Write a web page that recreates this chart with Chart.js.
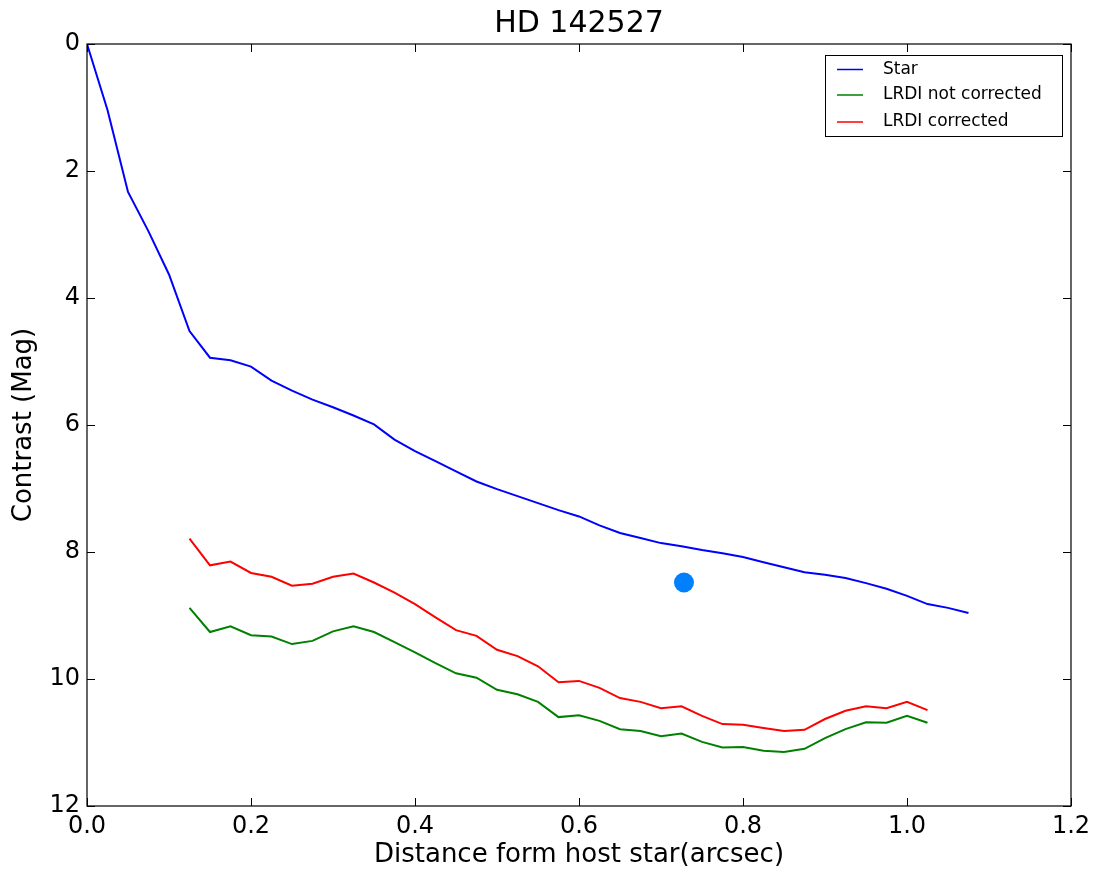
<!DOCTYPE html>
<html>
<head>
<meta charset="utf-8">
<script src="https://cdn.jsdelivr.net/npm/chart.js@4/dist/chart.umd.min.js"></script>
<style>
html,body{margin:0;padding:0;background:#fff;}
#c{display:block;}
</style>
</head>
<body>
<canvas id="c" width="1097" height="875"></canvas>
<script>
const chartTitle = "HD 142527";
const xTitle = "Distance form host star(arcsec)";
const yTitle = "Contrast (Mag)";

const starDist = [0,0.025,0.05,0.075,0.1,0.125,0.15,0.175,0.2,0.225,0.25,0.275,0.3,0.325,0.35,0.375,0.4,0.425,0.45,0.475,0.5,0.525,0.55,0.575,0.6,0.625,0.65,0.675,0.7,0.725,0.75,0.775,0.8,0.825,0.85,0.875,0.9,0.925,0.95,0.975,1.0,1.025,1.05,1.075];
const starMag = [0,1.04,2.33,2.95,3.63,4.52,4.94,4.98,5.08,5.30,5.46,5.60,5.72,5.85,5.99,6.23,6.41,6.57,6.73,6.89,7.01,7.12,7.23,7.34,7.44,7.58,7.70,7.78,7.86,7.91,7.97,8.02,8.08,8.16,8.24,8.32,8.36,8.41,8.49,8.58,8.69,8.82,8.88,8.96];

const lrdiDist = [0.125,0.15,0.175,0.2,0.225,0.25,0.275,0.3,0.325,0.35,0.375,0.4,0.425,0.45,0.475,0.5,0.525,0.55,0.575,0.6,0.625,0.65,0.675,0.7,0.725,0.75,0.775,0.8,0.825,0.85,0.875,0.9,0.925,0.95,0.975,1.0,1.025];
const lrdiNotCorrected = [8.88,9.26,9.17,9.31,9.33,9.45,9.40,9.25,9.17,9.26,9.42,9.58,9.75,9.91,9.98,10.17,10.24,10.36,10.60,10.57,10.66,10.79,10.82,10.90,10.86,10.99,11.08,11.07,11.13,11.15,11.10,10.93,10.79,10.68,10.69,10.58,10.69];
const lrdiCorrected = [7.79,8.21,8.15,8.33,8.39,8.53,8.50,8.39,8.34,8.48,8.64,8.82,9.03,9.23,9.32,9.54,9.64,9.80,10.05,10.03,10.14,10.30,10.36,10.46,10.43,10.58,10.71,10.72,10.77,10.82,10.80,10.63,10.50,10.43,10.46,10.36,10.49];

const companionDist = [0.728];
const companionMag = [8.48];

const xTicks = [0,0.2,0.4,0.6,0.8,1.0,1.2];
const yTicks = [0,2,4,6,8,10,12];

function pts(xs, ys){ return xs.map((x,i)=>({x:x, y:ys[i]})); }

const FONT = "'DejaVu Sans', sans-serif";

const framePlugin = {
  id: 'frame',
  afterDatasetsDraw(chart){
    const {ctx, chartArea:a, scales} = chart;
    ctx.save();
    ctx.strokeStyle = '#000';
    ctx.lineWidth = 1.2;
    ctx.strokeRect(a.left, a.top, a.right - a.left, a.bottom - a.top);
    ctx.lineWidth = 1;
    ctx.beginPath();
    xTicks.forEach(v=>{
      const px = Math.round(scales.x.getPixelForValue(v)) + 0.5;
      ctx.moveTo(px, a.bottom); ctx.lineTo(px, a.bottom - 8);
      ctx.moveTo(px, a.top); ctx.lineTo(px, a.top + 8);
    });
    yTicks.forEach(v=>{
      const py = Math.round(scales.y.getPixelForValue(v)) + 0.5;
      ctx.moveTo(a.left, py); ctx.lineTo(a.left + 8, py);
      ctx.moveTo(a.right, py); ctx.lineTo(a.right - 8, py);
    });
    ctx.stroke();
    ctx.restore();
  },
  afterDraw(chart){
    const {ctx, chartArea:a} = chart;
    ctx.save();
    // title
    ctx.fillStyle = '#000';
    ctx.font = "30px " + FONT;
    ctx.textAlign = 'center';
    ctx.textBaseline = 'alphabetic';
    ctx.fillText(chartTitle, (a.left + a.right)/2, 32);
    // legend
    const items = chart.data.datasets.filter(d=>d.showInLegend);
    const bx = 825, by = 55, bw = 237, bh = 81;
    ctx.fillStyle = '#fff';
    ctx.fillRect(bx, by, bw, bh);
    ctx.strokeStyle = '#000';
    ctx.lineWidth = 1;
    ctx.strokeRect(bx + 0.5, by + 0.5, bw, bh);
    ctx.font = "17px " + FONT;
    ctx.textAlign = 'left';
    ctx.textBaseline = 'middle';
    const rows = [69.5, 95, 122];
    items.forEach((d,i)=>{
      const y = rows[i];
      ctx.strokeStyle = d.borderColor;
      ctx.lineWidth = 1.5;
      ctx.beginPath();
      ctx.moveTo(837, y); ctx.lineTo(863, y);
      ctx.stroke();
      ctx.fillStyle = '#000';
      ctx.fillText(d.label, 883, y);
    });
    ctx.restore();
  }
};

new Chart(document.getElementById('c'), {
  type: 'scatter',
  data: {
    datasets: [
      {label:'Star', data: pts(starDist, starMag), showLine:true, borderColor:'#0000ff', backgroundColor:'#0000ff', borderWidth:2, pointRadius:0, showInLegend:true},
      {label:'LRDI not corrected', data: pts(lrdiDist, lrdiNotCorrected), showLine:true, borderColor:'#008000', backgroundColor:'#008000', borderWidth:2, pointRadius:0, showInLegend:true},
      {label:'LRDI corrected', data: pts(lrdiDist, lrdiCorrected), showLine:true, borderColor:'#ff0000', backgroundColor:'#ff0000', borderWidth:2, pointRadius:0, showInLegend:true},
      {label:'Companion', data: pts(companionDist, companionMag), showLine:false, borderColor:'#0080ff', backgroundColor:'#0080ff', pointRadius:10, pointBorderWidth:0, showInLegend:false}
    ]
  },
  options: {
    responsive: false,
    animation: false,
    layout: { padding: { top: 44, right: 26, left: 0, bottom: 0 } },
    plugins: {
      legend: { display: false },
      title: { display: false },
      tooltip: { enabled: false }
    },
    scales: {
      x: {
        type: 'linear', min: 0, max: 1.2,
        afterBuildTicks(s){ s.ticks = xTicks.map(v=>({value:v})); },
        afterFit(s){ s.height = 69; },
        grid: { drawOnChartArea: false, drawTicks: false },
        border: { display: false },
        ticks: { color:'#000', padding: 6, font: { family: FONT, size: 24 }, callback: v => Number(v).toFixed(1), maxRotation: 0, autoSkip: false },
        title: { display: true, text: xTitle, color:'#000', font: { family: FONT, size: 26 }, padding: { top: 0, bottom: 4 } }
      },
      y: {
        type: 'linear', min: 0, max: 12, reverse: true,
        afterBuildTicks(s){ s.ticks = yTicks.map(v=>({value:v})); },
        afterFit(s){ s.width = 87; },
        grid: { drawOnChartArea: false, drawTicks: false },
        border: { display: false },
        ticks: { color:'#000', padding: 7, font: { family: FONT, size: 24 }, autoSkip: false },
        title: { display: true, text: yTitle, color:'#000', font: { family: FONT, size: 26 }, padding: { top: 9, bottom: 0 } }
      }
    }
  },
  plugins: [framePlugin]
});
</script>
</body>
</html>
